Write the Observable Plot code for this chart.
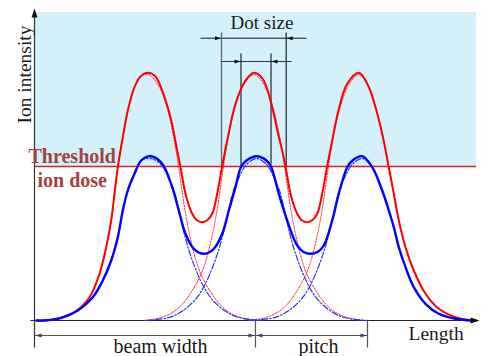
<!DOCTYPE html>
<html><head><meta charset="utf-8">
<script src="https://cdn.jsdelivr.net/npm/d3@7"></script>
<script src="https://cdn.jsdelivr.net/npm/@observablehq/plot@0.6"></script>
<style>
html,body{margin:0;padding:0;background:#fff;}
svg{display:block;}
</style></head><body>
<script>
// Length (x, from the intensity axis) and ion intensity (y, from the baseline)
const redSum = [[2,0],[6.7,0],[23.3,1.7],[40,8.3],[55,23.3],[65,46.7],[71.7,73.3],[76.7,100],[80,126.7],[83.3,153.3],[88.3,183.3],[93.3,210],[100,233.3],[106,244],[113.5,247.7],[121,244],[127.7,230],[136,203.3],[142.7,170],[146,153.3],[151,126.7],[157.7,106.7],[162,100.5],[167.7,98.3],[173,100.5],[177.7,106.7],[182.7,126.7],[187.5,153.3],[192.7,180],[201,216.7],[211,240],[219.5,247.7],[228,242],[236,220],[243.5,187],[247.7,170],[251.2,153.3],[256,126.7],[262.7,106.7],[267,100.5],[272.7,98.3],[278,100.5],[282.7,106.7],[287.7,126.7],[292.5,153.3],[297.7,180],[303.5,208],[312.7,236.7],[324.5,247.7],[334.3,233.3],[341,213.3],[347.7,186.7],[354.3,153.3],[359.3,126.7],[364.3,100],[371,73.3],[379.3,50],[391,26.7],[404.3,11.7],[421,3.3],[437.7,0],[441,0]];
const blueSum = [[2,0],[10,0],[26.7,2.7],[43.3,10],[58.3,23.3],[68.3,40],[76.7,60],[83.3,83.3],[88.3,110],[93.3,130],[100,146.7],[106.7,160],[116.5,164.3],[127.7,156.7],[137.7,133.3],[144.3,110],[151,86.7],[159.3,71.7],[169.3,66.7],[179.3,71.7],[187.7,86.7],[194.3,110],[201,133.3],[206.5,153.5],[212,160],[222,164.3],[232,160],[236.7,153.5],[244.3,126.7],[252.7,100],[262.7,75],[269,68.5],[276,66.7],[283,68.5],[289.3,75],[297.7,100],[304.3,126.7],[312.7,153.3],[318,160],[327.7,164.3],[337.7,153.3],[347.7,130],[354.3,110],[359.3,93.3],[364.3,73.3],[371,53.3],[379.3,33.3],[391,16.7],[404.3,6.7],[421,1.7],[437.7,0],[441,0]];
// single-beam profiles on the inner sides: [distance from beam centre, intensity]
const redProfile = [[0,246],[10,236],[20,209],[28,170],[33,137],[37,110],[42,84],[48,60],[54,44],[63,28],[72,16],[80,9],[90,4],[100,1.5],[110,0]];
const blueProfile = [[0,162],[10,156],[17,144],[23,130],[28,110],[33,88],[38,70],[44,53],[50,39],[56,28],[63,19],[72,11],[82,5],[92,2],[104,0.5],[112,0]];
const redCenters = [113.5, 219.5, 324.5];
const blueCenters = [116.5, 222, 327.7];
const threshold = 154;
const axisLabels = ["Ion intensity", "Length"];
const thresholdLabel = ["Threshold", "ion dose"];
const dimLabels = ["Dot size", "beam width", "pitch"];

// each single beam: inner sides from its profile, outer sides of the end beams follow the summed curve
function beam(profile, sum, c, i, n, k) {
  let left = profile.slice(1).reverse().map(([d, h]) => ({x: c - d, y: h, k}));
  let right = profile.map(([d, h]) => ({x: c + d, y: h, k}));
  if (i === 0) left = sum.filter(p => p[0] < c - 4).map(([x, y]) => ({x, y, k}));
  if (i === n - 1) right = [right[0]].concat(sum.filter(p => p[0] > c + 4).map(([x, y]) => ({x, y, k})));
  return left.concat(right);
}
const redBeams = redCenters.flatMap((c, i) => beam(redProfile, redSum, c, i, redCenters.length, "r" + i));
const blueBeams = blueCenters.flatMap((c, i) => beam(blueProfile, blueSum, c, i, blueCenters.length, "b" + i));

// dimension lines
const segs = [
  {x1: 0, y1: -27, x2: 0, y2: 305, s: "#333", w: 1.2},
  {x1: -4, y1: 0, x2: 437, y2: 0, s: "#222", w: 1.2},
  {x1: 0, y1: -15, x2: 221, y2: -15, s: "#555", w: 1},
  {x1: 221, y1: -15, x2: 333, y2: -15, s: "#555", w: 1},
  {x1: 221, y1: 0, x2: 221, y2: -27, s: "#555", w: 1.2},
  {x1: 333, y1: 0, x2: 333, y2: -27, s: "#555", w: 1.2},
  {x1: 166, y1: 282.3, x2: 272, y2: 282.3, s: "#111", w: 1},
  {x1: 186, y1: 259, x2: 257, y2: 259, s: "#333", w: 1},
  {x1: 187, y1: threshold, x2: 187, y2: 288, s: "#666", w: 1.3},
  {x1: 251.7, y1: threshold, x2: 251.7, y2: 288, s: "#111", w: 1.1},
  {x1: 206.5, y1: threshold, x2: 206.5, y2: 267, s: "#111", w: 1.1},
  {x1: 236.5, y1: threshold, x2: 236.5, y2: 267, s: "#111", w: 1.1}
];
const heads = [
  {x: 0, y: 312, dx: 0, dy: 1, L: 9, W: 6, c: "#111"},
  {x: 445, y: 0, dx: 1, dy: 0, L: 9, W: 6, c: "#111"},
  {x: 1, y: -15, dx: -1, dy: 0, L: 6, W: 4, c: "#444"},
  {x: 220, y: -15, dx: 1, dy: 0, L: 6, W: 4, c: "#444"},
  {x: 222, y: -15, dx: -1, dy: 0, L: 6, W: 4, c: "#444"},
  {x: 332, y: -15, dx: 1, dy: 0, L: 6, W: 4, c: "#444"},
  {x: 186.5, y: 282.3, dx: 1, dy: 0, L: 6, W: 4, c: "#111"},
  {x: 252.2, y: 282.3, dx: -1, dy: 0, L: 6, W: 4, c: "#111"},
  {x: 206, y: 259, dx: 1, dy: 0, L: 6, W: 4, c: "#111"},
  {x: 237, y: 259, dx: -1, dy: 0, L: 6, W: 4, c: "#111"}
];
const headPts = heads.flatMap((h, i) => {
  const bx = h.x - h.dx * h.L, by = h.y - h.dy * h.L;
  const px = -h.dy * h.W / 2, py = h.dx * h.W / 2;
  return [
    {x: h.x, y: h.y, k: i, c: h.c},
    {x: bx + px, y: by + py, k: i, c: h.c},
    {x: bx - px, y: by - py, k: i, c: h.c}
  ];
});

const serif = "'Liberation Serif','Times New Roman','DejaVu Serif',serif";
const plot = Plot.plot({
  width: 481, height: 356, margin: 0,
  x: {domain: [-34, 447], axis: null},
  y: {domain: [-36, 320], axis: null},
  style: {fontFamily: serif, background: "white", overflow: "visible"},
  marks: [
    Plot.rect([{x1: 0, x2: 442, y1: threshold, y2: 308}], {x1: "x1", x2: "x2", y1: "y1", y2: "y2", fill: "#d4f0fb"}),
    Plot.ruleY([threshold], {x1: 0, x2: 442, stroke: "#d42525", strokeWidth: 1.5}),
    Plot.link(segs, {x1: "x1", y1: "y1", x2: "x2", y2: "y2", stroke: d => d.s, strokeWidth: d => d.w}),
    Plot.line(redBeams, {x: "x", y: "y", z: "k", stroke: "#ff2a2a", strokeWidth: 1, strokeDasharray: "1.6,1.4", curve: "catmull-rom"}),
    Plot.line(blueBeams, {x: "x", y: "y", z: "k", stroke: "#2233ff", strokeWidth: 1.2, strokeDasharray: "6,2,1.5,2", curve: "catmull-rom"}),
    Plot.line(redSum, {x: d => d[0], y: d => d[1], stroke: "#ff0000", strokeWidth: 2, curve: "catmull-rom"}),
    Plot.line(blueSum, {x: d => d[0], y: d => d[1], stroke: "#0000ff", strokeWidth: 2.4, curve: "catmull-rom"}),
    Plot.line(headPts, {x: "x", y: "y", z: "k", fill: "c", stroke: "none", curve: "linear"}),
    Plot.text([axisLabels[0]], {x: -4, y: 246, text: d => d, rotate: -90, fontSize: 19.5, textAnchor: "middle", lineAnchor: "bottom", fill: "#1a1a1a"}),
    Plot.text([axisLabels[1]], {x: 374, y: -19.5, text: d => d, fontSize: 19.5, textAnchor: "start", lineAnchor: "bottom", fill: "#1a1a1a"}),
    Plot.text([thresholdLabel[0]], {x: -6, y: 158, text: d => d, fontSize: 20, fontWeight: "bold", textAnchor: "start", lineAnchor: "bottom", fill: "#a3433e"}),
    Plot.text([thresholdLabel[1]], {x: 3, y: 134, text: d => d, fontSize: 20, fontWeight: "bold", textAnchor: "start", lineAnchor: "bottom", fill: "#a3433e"}),
    Plot.text([dimLabels[0]], {x: 227.5, y: 292, text: d => d, fontSize: 19, textAnchor: "middle", lineAnchor: "bottom", fill: "#1a1a1a"}),
    Plot.text([dimLabels[1]], {x: 126, y: -32.5, text: d => d, fontSize: 20, textAnchor: "middle", lineAnchor: "bottom", fill: "#1a1a1a"}),
    Plot.text([dimLabels[2]], {x: 284, y: -32.5, text: d => d, fontSize: 20, textAnchor: "middle", lineAnchor: "bottom", fill: "#1a1a1a"})
  ]
});
document.body.appendChild(plot);
</script>
</body></html>
